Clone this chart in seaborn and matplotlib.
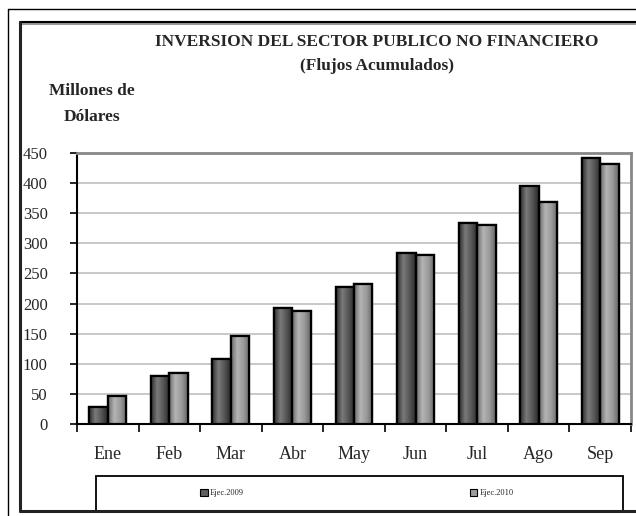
import numpy as np
import pandas as pd
import matplotlib
matplotlib.use("Agg")
import matplotlib.pyplot as plt
from matplotlib.lines import Line2D
from matplotlib.patches import Rectangle
from matplotlib.colors import LinearSegmentedColormap
import seaborn as sns

# data
months = ['Ene', 'Feb', 'Mar', 'Abr', 'May', 'Jun', 'Jul', 'Ago', 'Sep']
ejec_2009 = [28, 80, 108, 192, 227, 284, 334, 396, 441]
ejec_2010 = [46, 84, 146, 187, 232, 280, 331, 368, 432]
series = ['Ejec.2009', 'Ejec.2010']
y_ticks = list(range(0, 451, 50))

df = pd.DataFrame({
    'mes': months * 2,
    'valor': ejec_2009 + ejec_2010,
    'serie': [series[0]] * len(months) + [series[1]] * len(months),
})

sns.set_style("white")
plt.rcParams['font.family'] = ['Liberation Serif', 'DejaVu Serif']

W, H = 636, 516
fig = plt.figure(figsize=(W / 100, H / 100), dpi=100)
ax = fig.add_axes([77 / W, 1 - 424 / H, (631 - 77) / W, (424 - 153) / H])

palette = {'Ejec.2009': '#5e5e5e', 'Ejec.2010': '#9c9c9c'}
sns.barplot(data=df, x='mes', y='valor', hue='serie', hue_order=series,
            order=months, palette=palette, width=0.6, edgecolor='black',
            linewidth=1.6, saturation=1, ax=ax, zorder=3)

ax.set_ylim(0, 450)
ax.set_xlim(-0.5, len(months) - 0.5)

# cylinder-like shading of each bar
shades = {
    'Ejec.2009': LinearSegmentedColormap.from_list('s9', ['#2e2e2e', '#7a7a7a', '#555555', '#2a2a2a']),
    'Ejec.2010': LinearSegmentedColormap.from_list('s10', ['#6a6a6a', '#b4b4b4', '#9a9a9a', '#666666']),
}
grad = np.linspace(0, 1, 64).reshape(1, -1)
for cont, name in zip(ax.containers, series):
    for bar in cont:
        x0, y0 = bar.get_x(), bar.get_y()
        im = ax.imshow(grad, cmap=shades[name], aspect='auto', zorder=3.5,
                       extent=(x0, x0 + bar.get_width(), y0, y0 + bar.get_height()))
        im.set_clip_path(bar)
        edge = Rectangle((x0, y0), bar.get_width(), bar.get_height(), fill=False,
                         edgecolor='black', linewidth=1.6, zorder=4)
        ax.add_patch(edge)
ax.set_ylim(0, 450)
ax.set_xlim(-0.5, len(months) - 0.5)

handles, labels = ax.get_legend_handles_labels()
ax.get_legend().remove()

ax.set_xlabel('')
ax.set_ylabel('')
ax.set_yticks(y_ticks)
ax.set_yticklabels([str(t) for t in y_ticks], fontsize=12)
ax.tick_params(axis='y', direction='out', length=5, width=1.2, color='black', pad=16, left=True)
ax.set_xticks(range(len(months)))
ax.set_xticklabels(months, fontsize=13)
ax.set_xticks(np.arange(-0.5, len(months)), minor=True)
ax.tick_params(axis='x', which='major', length=0, pad=16)
ax.tick_params(axis='x', which='minor', direction='out', length=6, width=1.2, color='black', bottom=True)

ax.yaxis.grid(True, color='#c4c4c4', linewidth=1.3, zorder=0)
ax.set_axisbelow(True)
for side in ['left', 'bottom']:
    ax.spines[side].set_color('black')
    ax.spines[side].set_linewidth(1.5)
for side in ['top', 'right']:
    ax.spines[side].set_color('#888888')
    ax.spines[side].set_linewidth(2)

# titles
fig.text(377 / W, 1 - 42 / H, 'INVERSION DEL SECTOR PUBLICO NO FINANCIERO',
         ha='center', va='center', fontsize=12.5, fontweight='bold')
fig.text(377 / W, 1 - 66 / H, '(Flujos Acumulados)',
         ha='center', va='center', fontsize=12.5, fontweight='bold')
fig.text(92 / W, 1 - 91 / H, 'Millones de', ha='center', va='center',
         fontsize=12.5, fontweight='bold')
fig.text(92 / W, 1 - 117 / H, 'Dólares', ha='center', va='center',
         fontsize=12.5, fontweight='bold')


def px(x, y):
    return x / W, 1 - y / H


# outer and inner frames
def fline(xs, ys, color='black', lw=1.0):
    fx = [x / W for x in xs]
    fy = [1 - y / H for y in ys]
    fig.add_artist(Line2D(fx, fy, color=color, linewidth=lw, transform=fig.transFigure))


fline([8, 8], [9, H], lw=1.0)
fline([8, W], [9, 9], lw=1.0)
fline([20, W], [23.5, 23.5], color='#9a9a9a', lw=1.5)
fline([20, W], [22, 22], lw=1.5)
fline([20, 20], [22, 511], color='#222222', lw=2.2)
fline([20, W], [511, 511], color='#222222', lw=2.2)

# legend box
fig.add_artist(Rectangle(px(96, 511), (623 - 96) / W, (511 - 476) / H,
                         transform=fig.transFigure, fill=False,
                         edgecolor='black', linewidth=1.3))
for h, lab, cx in zip(handles, labels, [222, 492]):
    h.set_edgecolor('black')
    h.set_linewidth(0.8)
    fig.legend([h], [lab], loc='center', bbox_to_anchor=px(cx, 493),
               frameon=False, fontsize=6, handlelength=0.9, handleheight=0.9,
               handletextpad=0.3, borderpad=0)

fig.savefig('out.png', dpi=100)
